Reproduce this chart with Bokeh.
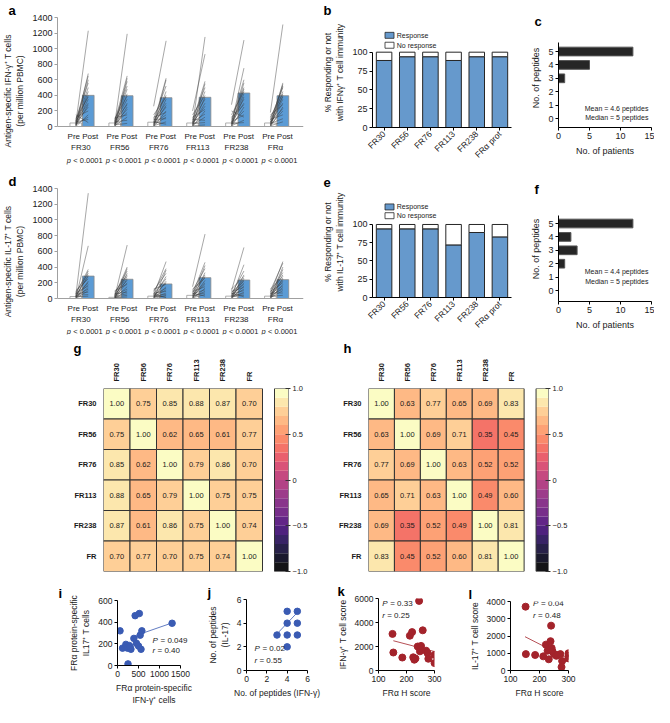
from math import pi
from bokeh.plotting import figure
from bokeh.models import (Range1d, FixedTicker, LinearAxis, Label, Span, Plot,
                          LinearColorMapper, ColumnDataSource)
from bokeh.layouts import row, column
from bokeh.palettes import Magma256
from bokeh.transform import transform
from bokeh.core.properties import value
from bokeh.embed import file_html
from bokeh.resources import INLINE

FONT = "Liberation Sans"
HAS_FRAME_ALIGN = "frame_align" in Plot.properties()

# ------------------------------------------------------------------ data
peptides = ["FR30", "FR56", "FR76", "FR113", "FR238", "FRα"]
pct_labels = ["FR30", "FR56", "FR76", "FR113", "FR238", "FRα prot"]
heat_labels = ["FR30", "FR56", "FR76", "FR113", "FR238", "FR"]

# panel a: IFN-gamma, per-patient pre / post (per million PBMC)
ifn_pre = [
    [40, 10, 60, 20, 80, 30, 0, 50, 100, 20, 70, 10, 40, 120, 0, 30, 60, 150],
    [30, 60, 0, 20, 80, 40, 10, 100, 50, 20, 70, 0, 40, 30, 110, 10, 60, 20],
    [260, 40, 0, 100, 20, 60, 150, 10, 80, 30, 50, 0, 120, 40, 20, 90, 10, 60],
    [20, 200, 60, 0, 100, 40, 150, 10, 80, 30, 50, 120, 0, 60, 20, 90, 40, 10],
    [280, 30, 60, 0, 100, 20, 150, 40, 10, 80, 50, 120, 0, 30, 60, 200, 10, 40],
    [180, 20, 60, 0, 100, 40, 120, 10, 80, 30, 50, 150, 0, 60, 20, 90, 40, 10],
]
ifn_post = [
    [1230, 680, 650, 600, 560, 500, 450, 400, 380, 350, 300, 280, 250, 200, 150, 120, 90, 50],
    [1190, 650, 620, 580, 520, 480, 420, 390, 350, 300, 280, 250, 220, 180, 150, 120, 80, 40],
    [1100, 620, 600, 520, 450, 400, 380, 350, 300, 270, 250, 200, 180, 150, 120, 100, 60, 30],
    [1150, 930, 580, 550, 500, 450, 400, 380, 350, 300, 260, 220, 200, 160, 120, 80, 50, 20],
    [1110, 750, 600, 560, 500, 480, 450, 420, 380, 350, 300, 280, 250, 200, 150, 120, 80, 50],
    [1310, 560, 540, 520, 500, 450, 420, 400, 380, 350, 300, 280, 250, 230, 200, 150, 100, 60],
]
ifn_pre_mean = [45, 45, 55, 45, 45, 45]
ifn_post_mean = [400, 395, 370, 375, 430, 395]

# panel d: IL-17
il17_pre = [
    [30, 0, 60, 10, 80, 20, 40, 100, 0, 50, 20, 70, 10, 30, 0, 60, 40, 20],
    [20, 40, 0, 60, 10, 80, 30, 0, 50, 20, 100, 10, 40, 0, 60, 30, 20, 10],
    [40, 80, 0, 100, 20, 60, 10, 30, 120, 0, 50, 20, 70, 10, 40, 0, 30, 60],
    [150, 60, 20, 100, 0, 80, 40, 120, 10, 50, 30, 90, 0, 60, 20, 40, 10, 70],
    [100, 20, 60, 0, 120, 40, 10, 80, 30, 50, 0, 90, 20, 60, 10, 40, 30, 70],
    [60, 100, 20, 0, 80, 40, 120, 10, 50, 30, 90, 0, 60, 20, 40, 10, 70, 30],
]
il17_post = [
    [1340, 670, 370, 350, 320, 300, 280, 250, 220, 200, 180, 160, 140, 120, 100, 80, 50, 30],
    [680, 400, 380, 350, 320, 300, 280, 250, 230, 200, 180, 150, 120, 100, 80, 60, 40, 20],
    [470, 380, 360, 320, 280, 250, 220, 200, 180, 150, 130, 110, 90, 70, 50, 40, 20, 10],
    [820, 460, 420, 380, 330, 300, 280, 260, 230, 200, 180, 150, 130, 110, 90, 70, 50, 30],
    [650, 430, 350, 300, 280, 260, 240, 220, 200, 180, 160, 140, 120, 100, 80, 60, 40, 20],
    [470, 450, 400, 370, 330, 300, 280, 260, 240, 220, 200, 180, 160, 140, 120, 100, 70, 40],
]
il17_pre_mean = [25, 15, 30, 40, 30, 30]
il17_post_mean = [285, 245, 185, 265, 235, 240]

p_value_text = "< 0.0001"

# panels b / e: % responding
ifn_resp = [89, 94, 94, 89, 94, 94]
il17_resp = [94, 94, 94, 72, 89, 83]
legend_labels = ["Response", "No response"]

# panels c / f: number of peptides recognised
c_peptides = [5, 4, 3]
c_patients = [12, 5, 1]
f_peptides = [5, 4, 3, 2]
f_patients = [12, 2, 3, 1]

# panels g / h: correlation matrices
g_mat = [
    [1.00, 0.75, 0.85, 0.88, 0.87, 0.70],
    [0.75, 1.00, 0.62, 0.65, 0.61, 0.77],
    [0.85, 0.62, 1.00, 0.79, 0.86, 0.70],
    [0.88, 0.65, 0.79, 1.00, 0.75, 0.75],
    [0.87, 0.61, 0.86, 0.75, 1.00, 0.74],
    [0.70, 0.77, 0.70, 0.75, 0.74, 1.00],
]
h_mat = [
    [1.00, 0.63, 0.77, 0.65, 0.69, 0.83],
    [0.63, 1.00, 0.69, 0.71, 0.35, 0.45],
    [0.77, 0.69, 1.00, 0.63, 0.52, 0.52],
    [0.65, 0.71, 0.63, 1.00, 0.49, 0.60],
    [0.69, 0.35, 0.52, 0.49, 1.00, 0.81],
    [0.83, 0.45, 0.52, 0.60, 0.81, 1.00],
]

# panels i-l: scatter
i_x = [60, 120, 200, 240, 280, 320, 250, 300, 390, 420, 450, 500, 540, 560, 520, 580, 1300]
i_y = [320, 160, 195, 160, 185, 150, 15, 170, 250, 460, 205, 180, 280, 150, 480, 320, 390]
i_fit_x = [350, 1300]
i_fit_y = [265, 393]

j_x = [3, 4, 4, 4, 4, 5, 5, 5]
j_y = [3, 2, 3, 4, 5, 3, 4, 5]
j_fit_x = [3, 5]
j_fit_y = [3.1, 4.9]

k_x = [150, 153, 185, 212, 220, 224, 228, 232, 240, 245, 248, 252, 258, 270, 275, 278, 300, 300]
k_y = [3050, 1500, 1080, 2900, 3200, 1100, 900, 1000, 2000, 5800, 1600, 2050, 3350, 1650, 1450, 980, 1300, 620]
k_fit_x = [153, 300]
k_fit_y = [2480, 1580]

l_x = [152, 153, 185, 213, 222, 228, 232, 238, 240, 242, 245, 250, 258, 262, 272, 278, 276, 300, 300, 300]
l_y = [3700, 950, 900, 820, 1500, 1150, 650, 1700, 2600, 1300, 1100, 950, 850, 900, 950, 550, 200, 1000, 850, 700]
l_fit_x = [150, 295]
l_fit_y = [1960, 720]

TXT = "#1a1a1a"
ROW_H = [166, 170, 240, 131]


# ------------------------------------------------------------------ helpers
def base_fig(w, h, xr, yr, bl, br, bt, bb, **kw):
    p = figure(width=w, height=h, x_range=Range1d(*xr), y_range=Range1d(*yr),
               min_border_left=bl, min_border_right=br, min_border_top=bt,
               min_border_bottom=bb, output_backend="svg", toolbar_location=None, **kw)
    if HAS_FRAME_ALIGN:
        p.frame_align = False
    p.outline_line_color = None
    for g in p.grid:
        g.visible = False
    p.background_fill_color = "white"
    p.border_fill_color = "white"
    return p


def style_axis(ax, color="#000000", size="9px", lsize="8.5px"):
    ax.axis_line_color = color
    ax.axis_line_width = 1
    ax.major_tick_line_color = color
    ax.minor_tick_line_color = None
    ax.major_tick_in = 0
    ax.major_tick_out = 3
    ax.major_label_text_font = FONT
    ax.major_label_text_font_size = size
    ax.major_label_text_color = TXT
    ax.major_label_standoff = 2
    ax.axis_label_text_font = FONT
    ax.axis_label_text_font_style = "normal"
    ax.axis_label_text_font_size = lsize
    ax.axis_label_text_color = TXT
    ax.axis_label_standoff = 4


def lab(p, x, y, text, xu="data", yu="data", size="8px", align="left",
        baseline="middle", style="normal", x_offset=0, color=TXT):
    p.add_layout(Label(x=x, y=y, x_units=xu, y_units=yu, text=text, text_font=FONT,
                       text_font_size=size, text_align=align, text_baseline=baseline,
                       text_font_style=style, x_offset=x_offset, text_color=color))


def letter(p, txt, offset):
    p.title.text = txt
    p.title.text_font = FONT
    p.title.text_font_size = "13px"
    p.title.text_font_style = "bold"
    p.title.text_color = "#000000"
    p.title.align = "left"
    p.title.offset = offset
    p.title.standoff = 0


# ------------------------------------------------------------------ a / d
def prepost_panel(let, pre_vals, post_vals, pre_mean, post_mean, ylabel, h, bt, fh, dys):
    bb = 2
    total = h - bt - bb
    ppx = 1400 / fh
    p = base_fig(320, h, (0, 6.32), (-(total - fh) * ppx, 1400), 50, 17, bt, bb,
                 x_axis_location=None)
    idx = list(range(len(peptides)))
    pre_x = [i + 0.47 for i in idx]
    post_x = [i + 0.79 for i in idx]
    p.add_layout(Span(location=0, dimension="width", line_color="#a0a0a0", line_width=1))
    p.vbar(x=pre_x, top=pre_mean, width=0.3, fill_color="white",
           line_color="#9a9a9a", line_width=0.8)
    p.vbar(x=post_x, top=post_mean, width=0.3, fill_color="#5b9bd5",
           line_color="#8a8a8a", line_width=0.8)
    xs, ys = [], []
    for i in idx:
        for a, b in zip(pre_vals[i], post_vals[i]):
            xs.append([pre_x[i], post_x[i]])
            ys.append([a, b])
    p.multi_line(xs=xs, ys=ys, line_color="#3a3a3a", line_width=0.6, line_alpha=0.75)
    p.yaxis.ticker = FixedTicker(ticks=list(range(0, 1401, 200)))
    p.yaxis.bounds = (0, 1400)
    p.yaxis.axis_label = ylabel
    for ax in p.axis:
        style_axis(ax, color="#a0a0a0", size="9px", lsize="8.5px")
    d1, d2, d3 = dys
    for i, name in enumerate(peptides):
        lab(p, i + 0.42, -d1 * ppx, "Pre", size="8px", align="center")
        lab(p, i + 0.84, -d1 * ppx, "Post", size="8px", align="center")
        lab(p, i + 0.6, -d2 * ppx, name, size="8px", align="center")
        lab(p, i + 0.65, -d3 * ppx, "p", size="7.5px", align="left",
            style="italic", x_offset=-16)
        lab(p, i + 0.65, -d3 * ppx, p_value_text, size="7.5px", align="left",
            x_offset=-9.5)
    letter(p, let, -49)
    return p


pa = prepost_panel("a", ifn_pre, ifn_post, ifn_pre_mean, ifn_post_mean,
                   "Antigen-specific IFN-γ⁺ T cells\n(per million PBMC)", ROW_H[0],
                   17, 109, (10, 21, 34))
pd_ = prepost_panel("d", il17_pre, il17_post, il17_pre_mean, il17_post_mean,
                    "Antigen-specific IL-17⁺ T cells\n(per million PBMC)", ROW_H[1],
                    22, 110, (10, 21, 33))


# ------------------------------------------------------------------ b / e
def pct_panel(let, resp, ylabel, h, bt, bb, ppu, leg_px):
    fh = h - bt - bb
    y_end = fh / ppu
    p = base_fig(205, h, (-0.5, 5.5), (0, y_end), 49, 14, bt, bb)
    idx = list(range(len(resp)))
    p.vbar(x=idx, top=resp, bottom=0, width=0.67, fill_color="#6699cc",
           line_color="#262626", line_width=1)
    p.vbar(x=idx, top=100, bottom=resp, width=0.67, fill_color="white",
           line_color="#262626", line_width=1)
    ux = 23.84
    sw_x = (396.5 - 379) / ux - 0.5
    tx = (404 - 379) / ux - 0.5
    sw_y = [leg_px[0] / ppu, leg_px[1] / ppu]
    p.rect(x=[sw_x, sw_x], y=sw_y, width=9, height=6, width_units="screen",
           height_units="screen", fill_color=["#6699cc", "white"],
           line_color="#262626", line_width=0.8)
    p.text(x=[tx, tx], y=sw_y, text=legend_labels, text_font=value(FONT),
           text_font_size=value("7px"), text_baseline="middle", text_color=TXT)
    p.yaxis.ticker = FixedTicker(ticks=[0, 25, 50, 75, 100])
    p.yaxis.bounds = (0, 100)
    p.yaxis.axis_label = ylabel
    p.xaxis.ticker = FixedTicker(ticks=idx)
    p.xaxis.major_label_overrides = {i: t for i, t in enumerate(pct_labels)}
    p.xaxis.major_label_orientation = pi / 4
    for ax in p.axis:
        style_axis(ax, size="9px", lsize="8.5px")
    p.xaxis.major_label_text_font_size = "8.5px"
    letter(p, let, -49)
    return p


pb = pct_panel("b", ifn_resp, "% Responding or not\nwith IFNγ⁺ T cell immunity",
               ROW_H[0], 16, 39, 0.76, (93, 83))
pe = pct_panel("e", il17_resp, "% Responding or not\nwith IL-17⁺ T cell immunity",
               ROW_H[1], 20, 36, 0.75, (93, 84))


# ------------------------------------------------------------------ c / f
def pep_panel(let, peps, counts, mean_txt, median_txt, ybot, ytop, h, bt, bb, ty1, ty2):
    fh = h - bt - bb
    p = base_fig(129, h, (0, 15), (ybot, ybot + fh / 13.4), 33, 3, bt, bb)
    p.hbar(y=peps, right=counts, left=0, height=0.65, fill_color="#262626",
           line_color="#555555", line_width=1)
    p.yaxis.ticker = FixedTicker(ticks=[0, 1, 2, 3, 4, 5])
    p.yaxis.bounds = (ybot, ytop)
    p.xaxis.ticker = FixedTicker(ticks=[0, 5, 10, 15])
    p.yaxis.axis_label = "No. of peptides"
    p.xaxis.axis_label = "No. of patients"
    for ax in p.axis:
        style_axis(ax, size="9px", lsize="9px")
    lab(p, 14.5, ty1, mean_txt, size="7px", align="right")
    lab(p, 14.5, ty2, median_txt, size="7px", align="right")
    letter(p, let, -24)
    return p


pc = pep_panel("c", c_peptides, c_patients, "Mean = 4.6 peptides", "Median = 5 peptides",
               -0.67, 5.67, ROW_H[0], 28, 39, 0.75, 0.07)
pf = pep_panel("f", f_peptides, f_patients, "Mean = 4.4 peptides", "Median = 5 peptides",
               -0.82, 5.6, ROW_H[1], 30, 35, 1.4, 0.67)

# ------------------------------------------------------------------ g / h
NLEV = 20
pal = [Magma256[int(round(k * 255 / (NLEV - 1)))] for k in range(NLEV)]


def heat_panel(let, mat, w, bl, br, x_end, cb_c, cb_w, lx):
    h = ROW_H[2]
    bt = 52
    p = base_fig(w, h, (-0.5, x_end), (-0.5, 5.5), bl, br, bt, h - bt - 183,
                 x_axis_location=None, y_axis_location=None)
    mapper = LinearColorMapper(palette=pal, low=-1, high=1)
    xs, ys, vs, ts = [], [], [], []
    n = len(mat)
    for r in range(n):
        for c in range(n):
            xs.append(c)
            ys.append(n - 1 - r)
            vs.append(mat[r][c])
            ts.append(f"{mat[r][c]:.2f}")
    src = ColumnDataSource(dict(x=xs, y=ys, v=vs, t=ts))
    p.rect(x="x", y="y", width=1, height=1, source=src,
           fill_color=transform("v", mapper), fill_alpha=0.92,
           line_color="#333333", line_width=1)
    p.text(x="x", y="y", text="t", source=src, text_align="center",
           text_baseline="middle", text_font=value(FONT), text_font_size=value("7.5px"),
           text_color=TXT)
    p.extra_y_ranges = {"cb": Range1d(-1, 1)}
    step = 2 / len(pal)
    levels = [-1 + (k + 0.5) * step for k in range(len(pal))]
    p.rect(x=[cb_c] * len(pal), y=levels, width=cb_w, height=step, fill_color=pal,
           fill_alpha=0.92, line_color=None, y_range_name="cb")
    p.rect(x=[cb_c], y=[0], width=cb_w, height=2, fill_color=None,
           line_color="#333333", line_width=1, y_range_name="cb")
    left = LinearAxis(ticker=FixedTicker(ticks=list(range(n))),
                      major_label_overrides={n - 1 - r: heat_labels[r] for r in range(n)})
    top = LinearAxis(ticker=FixedTicker(ticks=list(range(n))),
                     major_label_overrides={c: heat_labels[c] for c in range(n)},
                     major_label_orientation=pi / 2)
    right = LinearAxis(y_range_name="cb", ticker=FixedTicker(ticks=[-1, -0.5, 0, 0.5, 1]),
                       major_label_overrides={-1: "−1.0", -0.5: "−0.5", 0: "0",
                                              0.5: "0.5", 1: "1.0"})
    p.add_layout(left, "left")
    p.add_layout(top, "above")
    p.add_layout(right, "right")
    for ax in (left, top):
        style_axis(ax, size="7.5px")
        ax.axis_line_color = None
        ax.major_tick_line_color = None
        ax.major_label_text_font_style = "bold"
        ax.major_label_standoff = 4
    style_axis(right, size="7.5px")
    right.axis_line_color = None
    right.major_tick_in = 3
    right.major_tick_out = 2
    right.major_tick_line_color = "#333333"
    letter(p, let, lx)
    return p


pg = heat_panel("g", g_mat, 335, 103, 47, 6.481, 6.217, 0.528, -30)
ph = heat_panel("h", h_mat, 319, 25, 106, 6.44, 6.2, 0.48, -25)


# ------------------------------------------------------------------ i-l
def scatter_panel(let, xv, yv, fx, fy, color, w, bl, br, bt, fh, xr, xb, yr, xt, yt,
                  xlabel, ylabel, ptxt, rtxt, tx, typ, tyr, lx, size=6.5):
    h = ROW_H[3]
    bb = h - bt - fh
    p = base_fig(w, h, xr, yr, bl, br, bt, bb)
    p.line(fx, fy, line_color=color, line_width=0.8)
    p.scatter(xv, yv, size=size, fill_color=color, line_color=color)
    p.xaxis.ticker = FixedTicker(ticks=xt)
    p.xaxis.bounds = xb
    p.yaxis.ticker = FixedTicker(ticks=yt)
    p.xaxis.axis_label = xlabel
    p.yaxis.axis_label = ylabel
    for ax in p.axis:
        style_axis(ax, size="8.5px", lsize="8.5px")
    p.xaxis.axis_label_standoff = 3
    lab(p, tx, typ, "P", size="8px", style="italic")
    lab(p, tx, typ, "= " + ptxt, size="8px", x_offset=8)
    lab(p, tx, tyr, "r", size="8px", style="italic")
    lab(p, tx, tyr, "= " + rtxt, size="8px", x_offset=5)
    letter(p, let, lx)
    return p


BLUE = "#3a5bb3"
RED = "#a3232b"
pi_ = scatter_panel("i", i_x, i_y, i_fit_x, i_fit_y, BLUE, 196, 117, 6, 24, 69,
                    (0, 1500 * 73 / 63), (0, 1500), (0, 600),
                    [0, 500, 1000, 1500], [0, 200, 400, 600],
                    "FRα protein-specific\nIFN-γ⁺ cells", "FRα protein-specific\nIL17⁺ T cells",
                    "0.049", "0.40", 833, 231, 137, -59)
pj = scatter_panel("j", j_x, j_y, j_fit_x, j_fit_y, BLUE, 130, 50, 19, 23, 71,
                   (0, 6), (0, 6), (0, 6), [0, 2, 4, 6], [0, 2, 4, 6],
                   "No. of peptides (IFN-γ)", "No. of peptides\n(IL-17)",
                   "0.02", "0.55", 0.78, 1.83, 0.83, -39)
pk = scatter_panel("k", k_x, k_y, k_fit_x, k_fit_y, RED, 133, 52, 25, 22, 72,
                   (100, 300), (100, 300), (0, 6000), [100, 200, 300], [0, 2000, 4000, 6000],
                   "FRα H score", "IFN-γ⁺ T cell score",
                   "0.33", "0.25", 113, 5564, 4603, -41, size=7)
pl = scatter_panel("l", l_x, l_y, l_fit_x, l_fit_y, RED, 195, 51, 86, 25, 69,
                   (100, 300), (100, 300), (0, 4000), [100, 200, 300],
                   [0, 1000, 2000, 3000, 4000],
                   "FRα H score", "IL-17⁺ T cell score",
                   "0.04", "0.48", 178, 3869, 3200, -42, size=7)

layout = column(row(pa, pb, pc), row(pd_, pe, pf), row(pg, ph), row(pi_, pj, pk, pl))

open("out.html", "w").write(file_html(layout, INLINE))
